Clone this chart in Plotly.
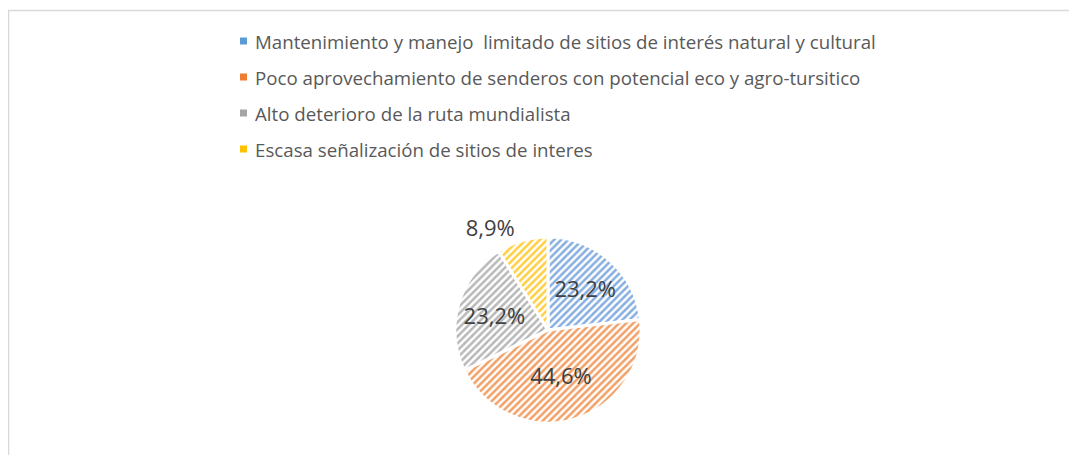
import plotly.graph_objects as go

# Datos (conteos: 13/56 = 23,2 %, 25/56 = 44,6 %, 5/56 = 8,9 %)
categorias = [
    "Mantenimiento y manejo  limitado de sitios de interés natural y cultural",
    "Poco aprovechamiento de senderos con potencial eco y agro-tursitico",
    "Alto deterioro de la ruta mundialista",
    "Escasa señalización de sitios de interes",
]
valores = [13, 25, 13, 5]

COLORES = ["#5B9BD5", "#ED7D31", "#A5A5A5", "#FFC000"]
RAYAS = ["#86AEE0", "#F2A066", "#B8B8B8", "#FFCF40"]
FONDOS = ["#DDEAF7", "#FBDDC8", "#E8E8E8", "#FFEDB3"]

# el body del html tiene margen de 8px -> coordenadas relativas a la figura
OFF = 8
W, H = 1077 - 2 * OFF, 463 - 2 * OFF
FUENTE = "Open Sans"


def px_x(x):
    return (x - OFF) / W


def px_y(y):
    return 1 - (y - OFF) / H


# posición del pie en píxeles de la página
cx, cy, r = 548, 330, 93

fig = go.Figure(
    go.Pie(
        labels=categorias,
        values=valores,
        sort=False,
        direction="clockwise",
        rotation=0,
        domain=dict(x=[px_x(cx - r), px_x(cx + r)], y=[px_y(cy + r), px_y(cy - r)]),
        marker=dict(
            colors=FONDOS,
            line=dict(color="white", width=3),
            pattern=dict(shape="/", fgcolor=RAYAS, size=5, solidity=0.5),
        ),
        texttemplate="%{percent:.1%}",
        textposition=["inside", "inside", "inside", "outside"],
        insidetextorientation="horizontal",
        textfont=dict(family=FUENTE, size=22, color="#404040"),
        showlegend=False,
        hoverinfo="label+percent",
    )
)

# Leyenda manual (texto + cuadrito)
y0, paso = 41, 36
for i, (lbl, col) in enumerate(zip(categorias, COLORES)):
    yy = y0 + i * paso
    fig.add_shape(
        type="rect", xref="paper", yref="paper",
        x0=px_x(240), x1=px_x(247), y0=px_y(yy + 3.5), y1=px_y(yy - 3.5),
        fillcolor=col, line_width=0,
    )
    fig.add_annotation(
        text=lbl, xref="paper", yref="paper",
        x=px_x(253), y=px_y(yy), xanchor="left", yanchor="middle",
        showarrow=False, font=dict(family=FUENTE, size=18.7, color="#595959"),
    )

# borde del área del gráfico
fig.add_shape(
    type="path", xref="paper", yref="paper",
    path=f"M {px_x(8.5)},0 L {px_x(8.5)},{px_y(10.5)} L 1,{px_y(10.5)}",
    line=dict(color="#D9D9D9", width=1.5),
)

fig.update_layout(
    width=W, height=H,
    paper_bgcolor="white", plot_bgcolor="white",
    margin=dict(l=0, r=0, t=0, b=0),
    separators=",.",
    font=dict(family=FUENTE, color="#404040"),
)

fig.write_html("out.html")
